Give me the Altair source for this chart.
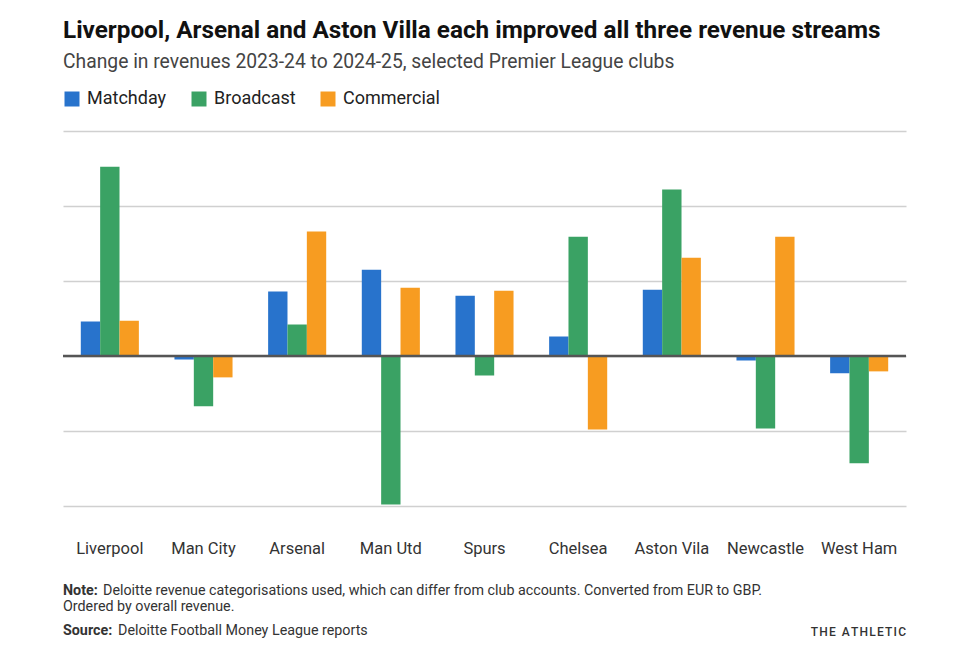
import altair as alt
import pandas as pd

clubs = ["Liverpool", "Man City", "Arsenal", "Man Utd", "Spurs", "Chelsea", "Aston Vila", "Newcastle", "West Ham"]
streams = ["Matchday", "Broadcast", "Commercial"]
matchday = [9.2, -0.9, 17.2, 23.0, 16.1, 5.2, 17.7, -1.2, -4.6]
broadcast = [50.5, -13.4, 8.4, -39.6, -5.2, 31.8, 44.4, -19.3, -28.6]
commercial = [9.4, -5.7, 33.2, 18.2, 17.4, -19.6, 26.2, 31.8, -4.1]
colors = ["#2873CC", "#3AA264", "#F79C21"]

rows = []
for i, c in enumerate(clubs):
    rows.append({"club": c, "stream": "Matchday", "value": matchday[i]})
    rows.append({"club": c, "stream": "Broadcast", "value": broadcast[i]})
    rows.append({"club": c, "stream": "Commercial", "value": commercial[i]})
df = pd.DataFrame(rows)

FONT = "Roboto"
W, H = 843, 375

bars = alt.Chart(df).mark_bar().encode(
    x=alt.X("club:N", sort=clubs,
            scale=alt.Scale(paddingInner=0.38, paddingOuter=0.19),
            axis=alt.Axis(title=None, domain=False, ticks=False, grid=False, labelAngle=0,
                          labelFontSize=16.5, labelColor="#333", labelPadding=34, labelFont=FONT)),
    xOffset=alt.XOffset("stream:N", sort=streams),
    y=alt.Y("value:Q", scale=alt.Scale(domain=[-40, 60], nice=False),
            axis=alt.Axis(title=None, values=[-40, -20, 0, 20, 40, 60], labels=False, ticks=False,
                          domain=False, grid=True, gridColor="#d0d0d0", gridWidth=1.5)),
    color=alt.Color("stream:N", sort=streams,
                    scale=alt.Scale(domain=streams, range=colors),
                    legend=alt.Legend(title=None, orient="none", legendX=0, legendY=-41,
                                      direction="horizontal", symbolType="square", symbolSize=225,
                                      symbolStrokeWidth=0, labelFontSize=18, labelFont=FONT,
                                      labelColor="#222", labelOffset=6, columnPadding=23)),
)

zero = alt.Chart(pd.DataFrame({"y": [0]})).mark_rule(color="#555", strokeWidth=2.5).encode(y="y:Q")

def txt(s, x, y, size, weight="normal", color="#222", align="left"):
    return alt.Chart(pd.DataFrame({"t": [s]})).mark_text(
        align=align, baseline="middle", fontSize=size, fontWeight=weight, color=color, font=FONT
    ).encode(text="t:N", x=alt.value(x), y=alt.value(y))

title = txt("Liverpool, Arsenal and Aston Villa each improved all three revenue streams", 0, -100, 24.3, "bold", "#111")
subtitle = txt("Change in revenues 2023-24 to 2024-25, selected Premier League clubs", 0, -69, 19.3, color="#444")
note_b = txt("Note:", 0, 460, 14.3, "bold", "#333")
note = txt("Deloitte revenue categorisations used, which can differ from club accounts. Converted from EUR to GBP.", 40, 460, 14.3, color="#333")
note2 = txt("Ordered by overall revenue.", 0, 476, 14.3, color="#333")
src_b = txt("Source:", 0, 500, 14.3, "bold", "#333")
src = txt("Deloitte Football Money League reports", 55, 500, 14.3, color="#333")
brand = txt("T\u200aH\u200aE\u2002A\u200aT\u200aH\u200aL\u200aE\u200aT\u200aI\u200aC", W, 501, 12, 500, "#333", align="right")

chart = alt.layer(bars, zero, title, subtitle, note_b, note, note2, src_b, src, brand).properties(
    width=W, height=H,
    padding={"left": 63, "top": 131, "right": 54, "bottom": 153},
    autosize=alt.AutoSizeParams(type="none"),
).configure(font=FONT).configure_view(stroke=None, strokeWidth=0)

chart.save("out.html", embed_options={"renderer": "svg", "actions": False})
